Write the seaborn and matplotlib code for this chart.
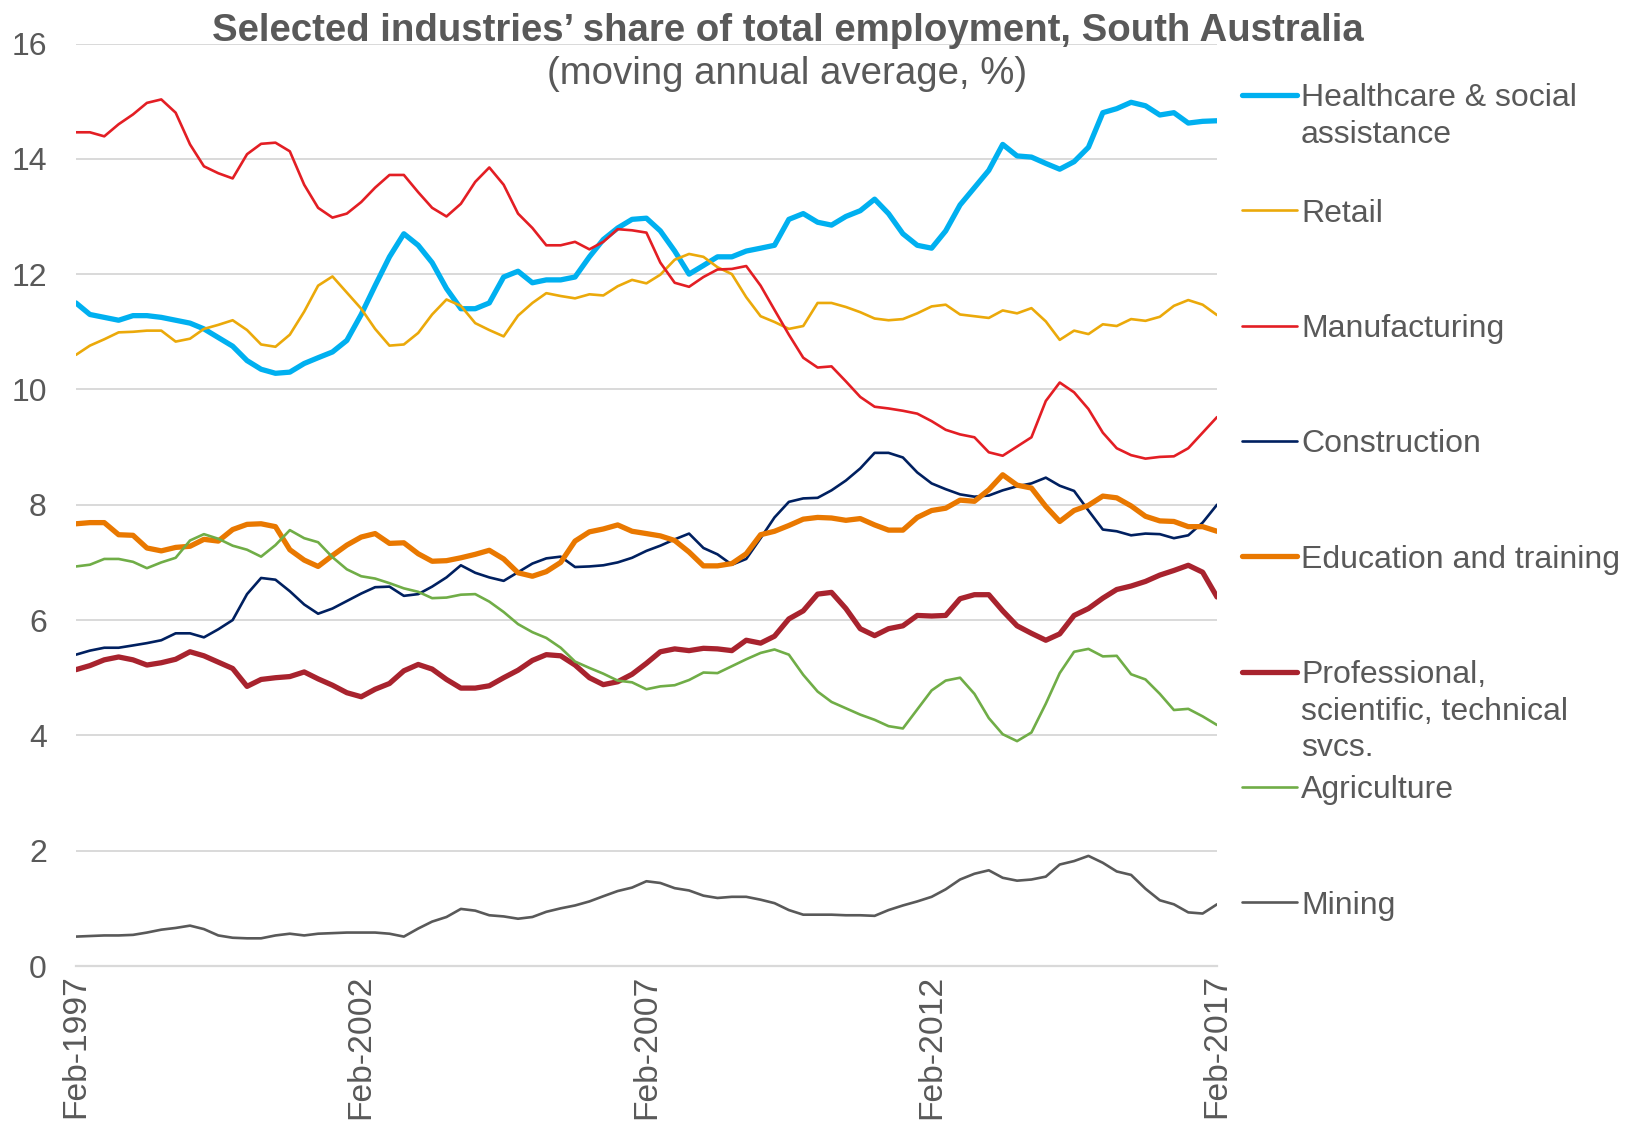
import pandas as pd
import seaborn as sns
import matplotlib.pyplot as plt
from matplotlib.lines import Line2D

# Plain white style, Arial-like font
sns.set_style('white')
plt.rcParams['font.family'] = ['Liberation Sans', 'DejaVu Sans']

TEXT = '#595959'
GRID = '#D9D9D9'

# Quarterly points, Feb-1997 .. Feb-2017 (moving annual average, % of total employment)
dates = pd.date_range('1997-02-01', '2017-02-01', freq='3MS')

healthcare = [11.5, 11.3, 11.25, 11.2, 11.28, 11.28, 11.25, 11.2, 11.15, 11.05,
              10.9, 10.75, 10.5, 10.35, 10.28, 10.3, 10.45, 10.55, 10.65, 10.85,
              11.3, 11.8, 12.3, 12.7, 12.5, 12.2, 11.75, 11.4, 11.4, 11.5,
              11.95, 12.05, 11.85, 11.9, 11.9, 11.95, 12.3, 12.6, 12.8, 12.95,
              12.97, 12.75, 12.4, 12.0, 12.15, 12.3, 12.3, 12.4, 12.45, 12.5,
              12.95, 13.05, 12.9, 12.85, 13.0, 13.1, 13.3, 13.05, 12.7, 12.5,
              12.45, 12.75, 13.2, 13.5, 13.8, 14.25, 14.05, 14.03, 13.92, 13.82,
              13.95, 14.2, 14.8, 14.87, 14.98, 14.92, 14.76, 14.8, 14.62, 14.65,
              14.66]
retail = [10.6, 10.76, 10.87, 10.99, 11.0, 11.02, 11.02, 10.83, 10.88, 11.05,
          11.12, 11.2, 11.03, 10.78, 10.74, 10.95, 11.35, 11.8, 11.96, 11.68,
          11.4, 11.05, 10.76, 10.78, 10.98, 11.3, 11.56, 11.45, 11.15, 11.03,
          10.92, 11.28, 11.5, 11.67, 11.62, 11.58, 11.65, 11.63, 11.79, 11.9,
          11.84, 11.99, 12.25, 12.35, 12.3, 12.12, 12.0, 11.6, 11.27, 11.17,
          11.05, 11.1, 11.5, 11.5, 11.43, 11.34, 11.23, 11.2, 11.22, 11.32,
          11.44, 11.47, 11.3, 11.27, 11.24, 11.37, 11.32, 11.41, 11.18, 10.86,
          11.02, 10.96, 11.13, 11.1, 11.22, 11.19, 11.26, 11.45, 11.55, 11.47,
          11.29]
manufacturing = [14.46, 14.46, 14.39, 14.6, 14.77, 14.97, 15.03, 14.8, 14.25, 13.87,
                 13.75, 13.66, 14.08, 14.26, 14.28, 14.13, 13.55, 13.15, 12.98, 13.05,
                 13.25, 13.5, 13.72, 13.72, 13.42, 13.15, 13.0, 13.22, 13.6, 13.85,
                 13.55, 13.05, 12.8, 12.5, 12.5, 12.56, 12.43, 12.56, 12.78, 12.76,
                 12.72, 12.2, 11.85, 11.78, 11.95, 12.08, 12.09, 12.14, 11.8, 11.38,
                 10.95, 10.55, 10.38, 10.4, 10.14, 9.87, 9.7, 9.67, 9.63, 9.58,
                 9.45, 9.3, 9.22, 9.17, 8.91, 8.85, 9.01, 9.17, 9.8, 10.12,
                 9.95, 9.66, 9.25, 8.98, 8.86, 8.8, 8.83, 8.84, 8.98, 9.25,
                 9.52]
construction = [5.4, 5.47, 5.52, 5.52, 5.56, 5.6, 5.65, 5.77, 5.77, 5.7,
                5.84, 6.0, 6.45, 6.73, 6.7, 6.5, 6.27, 6.11, 6.2, 6.33,
                6.46, 6.57, 6.58, 6.42, 6.45, 6.58, 6.74, 6.95, 6.82, 6.74,
                6.68, 6.83, 6.98, 7.07, 7.1, 6.92, 6.93, 6.95, 7.0, 7.08,
                7.2, 7.29, 7.4, 7.5, 7.25, 7.14, 6.96, 7.06, 7.42, 7.78,
                8.05, 8.11, 8.12, 8.25, 8.42, 8.63, 8.9, 8.9, 8.82, 8.56,
                8.37, 8.27, 8.18, 8.14, 8.16, 8.25, 8.32, 8.37, 8.47, 8.33,
                8.24, 7.9, 7.57, 7.54, 7.47, 7.5, 7.49, 7.42, 7.47, 7.69,
                8.0]
education = [7.67, 7.69, 7.69, 7.48, 7.47, 7.25, 7.2, 7.26, 7.28, 7.4,
             7.37, 7.57, 7.66, 7.67, 7.62, 7.22, 7.04, 6.93, 7.12, 7.3,
             7.44, 7.5, 7.33, 7.34, 7.15, 7.02, 7.03, 7.08, 7.14, 7.21,
             7.06, 6.82, 6.76, 6.84, 7.0, 7.37, 7.53, 7.58, 7.65, 7.54,
             7.5, 7.46, 7.38, 7.18, 6.94, 6.94, 6.98, 7.15, 7.48, 7.54,
             7.64, 7.75, 7.78, 7.77, 7.73, 7.76, 7.65, 7.56, 7.56, 7.78,
             7.9, 7.94, 8.08, 8.06, 8.26, 8.52, 8.34, 8.29, 7.97, 7.71,
             7.9, 7.99, 8.15, 8.12, 7.98, 7.8, 7.72, 7.71, 7.62, 7.62,
             7.54]
professional = [5.14, 5.21, 5.31, 5.36, 5.31, 5.22, 5.26, 5.32, 5.45, 5.38,
                5.27, 5.16, 4.85, 4.97, 5.0, 5.02, 5.1, 4.98, 4.87, 4.74,
                4.67, 4.8, 4.9, 5.12, 5.23, 5.15, 4.97, 4.82, 4.82, 4.86,
                5.0, 5.13, 5.3, 5.4, 5.38, 5.22, 5.0, 4.88, 4.93, 5.06,
                5.25, 5.45, 5.5, 5.47, 5.51, 5.5, 5.47, 5.65, 5.6, 5.72,
                6.02, 6.16, 6.45, 6.48, 6.2, 5.85, 5.73, 5.85, 5.9, 6.08,
                6.07, 6.08, 6.37, 6.44, 6.44, 6.16, 5.9, 5.77, 5.65, 5.76,
                6.08, 6.2, 6.38, 6.53, 6.59, 6.67, 6.78, 6.86, 6.95, 6.83,
                6.4]
agriculture = [6.93, 6.96, 7.06, 7.06, 7.01, 6.9, 7.0, 7.08, 7.38, 7.49,
               7.41, 7.29, 7.22, 7.1, 7.3, 7.56, 7.42, 7.35, 7.09, 6.88,
               6.76, 6.72, 6.64, 6.55, 6.49, 6.38, 6.39, 6.44, 6.45, 6.32,
               6.14, 5.93, 5.79, 5.69, 5.52, 5.28, 5.17, 5.07, 4.95, 4.92,
               4.8, 4.85, 4.87, 4.96, 5.09, 5.08, 5.2, 5.32, 5.43, 5.49,
               5.4, 5.05, 4.76, 4.58, 4.47, 4.36, 4.27, 4.16, 4.12, 4.45,
               4.78, 4.95, 5.0, 4.72, 4.3, 4.02, 3.9, 4.05, 4.55, 5.08,
               5.45, 5.5, 5.37, 5.38, 5.06, 4.97, 4.72, 4.44, 4.46, 4.33,
               4.18]
mining = [0.51, 0.52, 0.53, 0.53, 0.54, 0.58, 0.63, 0.66, 0.7, 0.64,
          0.53, 0.49, 0.48, 0.48, 0.53, 0.56, 0.53, 0.56, 0.57, 0.58,
          0.58, 0.58, 0.56, 0.51, 0.65, 0.77, 0.85, 0.99, 0.96, 0.88,
          0.86, 0.82, 0.85, 0.94, 1.0, 1.05, 1.12, 1.21, 1.3, 1.36,
          1.47, 1.44, 1.35, 1.31, 1.22, 1.18, 1.2, 1.2, 1.15, 1.09,
          0.97, 0.89, 0.89, 0.89, 0.88, 0.88, 0.87, 0.97, 1.05, 1.12,
          1.2, 1.33, 1.5, 1.6, 1.66, 1.53, 1.48, 1.5, 1.55, 1.76,
          1.82, 1.91, 1.79, 1.64, 1.58, 1.34, 1.14, 1.07, 0.93, 0.91,
          1.07]

labels = ['Healthcare & social\nassistance', 'Retail', 'Manufacturing', 'Construction',
          'Education and training', 'Professional,\nscientific, technical\nsvcs.',
          'Agriculture', 'Mining']
values = [healthcare, retail, manufacturing, construction,
          education, professional, agriculture, mining]
colors = ['#00B0F0', '#EBA90A', '#E31E24', '#002060',
          '#E97800', '#A8232E', '#70AD47', '#595959']
widths = [3.8, 1.9, 1.9, 1.9, 3.8, 3.8, 1.9, 1.9]

tick_dates = pd.to_datetime(['1997-02-01', '2002-02-01', '2007-02-01', '2012-02-01', '2017-02-01'])
tick_labels = ['Feb-1997', 'Feb-2002', 'Feb-2007', 'Feb-2012', 'Feb-2017']

W, H = 1637, 1123
fig = plt.figure(figsize=(W / 100, H / 100), dpi=100)
ax = fig.add_axes([76 / W, 1 - 966 / H, (1217 - 76) / W, (966 - 43.5) / H])

for vals, col, lw in zip(values, colors, widths):
    sns.lineplot(x=dates, y=vals, ax=ax, color=col, linewidth=lw, legend=False,
                 solid_capstyle='round', solid_joinstyle='round')

# Axes styling
ax.set_xlim(dates[0], dates[-1])
ax.set_ylim(0, 16)
ax.set_yticks(range(0, 17, 2))
ax.yaxis.grid(True, color=GRID, linewidth=1.4)
ax.set_axisbelow(True)
for side in ['left', 'right', 'top']:
    ax.spines[side].set_visible(False)
ax.spines['bottom'].set_color(GRID)
ax.spines['bottom'].set_linewidth(1.6)
ax.set_xticks(tick_dates)
ax.set_xticklabels(tick_labels, rotation=90)
ax.tick_params(axis='x', length=5, width=1.3, color=GRID, pad=1, labelsize=24.2, labelcolor=TEXT)
ax.tick_params(axis='y', length=0, pad=21, labelsize=23, labelcolor=TEXT)
ax.set_xlabel('')
ax.set_ylabel('')

# Title
fig.text(788 / W, 1 - 31 / H, 'Selected industries\u2019 share of total employment, South Australia',
         ha='center', va='center', fontsize=27.6, fontweight='bold', color=TEXT)
fig.text(787 / W, 1 - 74 / H, '(moving annual average, %)',
         ha='center', va='center', fontsize=27.6, color=TEXT)

# Legend drawn by hand so entries sit at even steps, line beside the first text line
for i, (lab, col, lw) in enumerate(zip(labels, colors, widths)):
    y0 = 95 + 115.3 * i
    fig.add_artist(Line2D([1242 / W, 1297 / W], [1 - y0 / H, 1 - y0 / H],
                          color=col, linewidth=lw, solid_capstyle='round'))
    for j, part in enumerate(lab.split('\n')):
        fig.text(1301 / W, 1 - (y0 + 36.5 * j) / H, part, ha='left', va='center_baseline',
                 fontsize=23, color=TEXT)

plt.savefig('out.png', dpi=100)
